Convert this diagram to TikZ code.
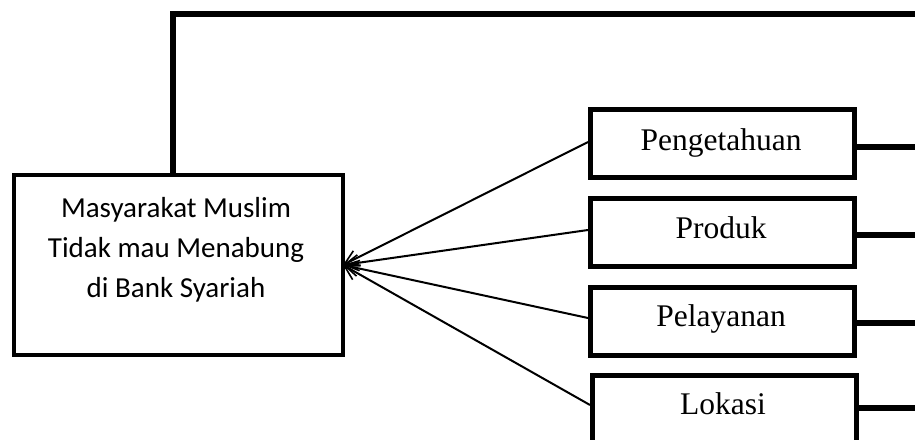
\documentclass[tikz,border=0pt]{standalone}
\usepackage{fontspec}
\setmainfont{Liberation Serif}
\newfontfamily\calib{Carlito}
\usetikzlibrary{arrows.meta}
\begin{document}
\begin{tikzpicture}[x=1pt,y=-1pt,
  mainbox/.style={draw,line width=4pt,minimum width=329pt,minimum height=180pt,anchor=north west,inner sep=0pt},
  factor/.style={draw,line width=4.5pt,minimum width=264pt,minimum height=68pt,anchor=north west,inner sep=0pt},
  ftext/.style={font=\fontsize{31.5}{36}\selectfont,anchor=base,inner sep=0pt},
  thick link/.style={line width=6pt},
  arr/.style={line width=2pt,-{Straight Barb[length=14pt,width=16pt,line width=1.6pt]}}]
\useasboundingbox (0,0) rectangle (915,439);
\node[mainbox] (m) at (12,173) {};
\node[align=center,anchor=base,inner sep=0pt,font=\calib\fontsize{29}{40}\selectfont] (mt) at (176,297) {Masyarakat Muslim\\Tidak mau Menabung\\di Bank Syariah};
\node[factor] (p1) at (588,107) {};
\node[factor] (p2) at (588,196) {};
\node[factor] (p3) at (588,285) {};
\node[factor,minimum height=80pt] (p4) at (590,373) {};
\node[ftext] (t1) at (721,150) {Pengetahuan};
\node[ftext] (t2) at (721,238) {Produk};
\node[ftext] (t3) at (721,326) {Pelayanan};
\node[ftext] (t4) at (723,414) {Lokasi};
\coordinate (tip) at (343,265);
\coordinate (top) at (173,14);
\coordinate (topR) at (925,14);
\coordinate (r1) at (925,147);
\coordinate (r2) at (925,235);
\coordinate (r3) at (925,323);
\coordinate (r4) at (925,408);
\draw[thick link] (m.north -| top) -- (top) -- (topR);
\draw[thick link] (p1.east |- r1) -- (r1);
\draw[thick link] (p2.east |- r2) -- (r2);
\draw[thick link] (p3.east |- r3) -- (r3);
\draw[thick link] (p4.east |- r4) -- (r4);
\draw[arr] (p1.west |- 0,142) -- (tip);
\draw[arr] (p2.west |- 0,230) -- (tip);
\draw[arr] (p3.west |- 0,318) -- (tip);
\draw[arr] (p4.west |- 0,405) -- (tip);
\end{tikzpicture}
\end{document}
